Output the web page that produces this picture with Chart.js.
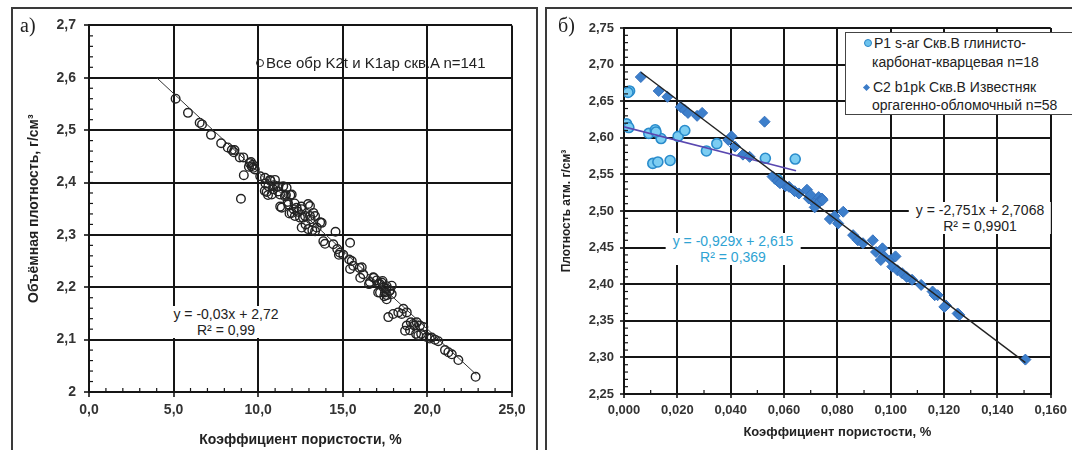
<!DOCTYPE html>
<html>
<head>
<meta charset="utf-8">
<script src="https://cdn.jsdelivr.net/npm/chart.js@4.4.0/dist/chart.umd.min.js"></script>
<style>
  body { margin: 0; width: 1072px; height: 450px; background: #fff; position: relative; overflow: hidden;
         font-family: 'Liberation Sans', Arial, sans-serif; color: #222; }
  .frame { position: absolute; border: 2px solid #3a3a3a; box-sizing: border-box; }
  #frameA { left: 11px; top: 7px; width: 527px; height: 470px; }
  #frameB { left: 545px; top: 7px; width: 540px; height: 470px; }
  .box { position: absolute; }
  #boxA { left: 12px; top: 9px; width: 522px; height: 441px; }
  #boxB { left: 548px; top: 9px; width: 524px; height: 441px; }
  .tag { position: absolute; font-family: 'Liberation Serif', serif; font-size: 20px; color: #222; z-index: 2; }
  .eq { position: absolute; background: #fff; text-align: center; font-size: 14px; line-height: 16px;
        transform: translateX(-50%); padding: 0 7px; white-space: nowrap; z-index: 2; }
  .legA { position: absolute; left: 256px; top: 54px; font-size: 15px; white-space: nowrap; z-index: 2; }
  .dot { display: inline-block; width: 6px; height: 6px; border: 1.3px solid #222; border-radius: 50%;
         margin-right: 2px; vertical-align: 1px; }
  .legB { position: absolute; left: 845px; top: 32px; width: 240px; height: 83px; box-sizing: border-box;
          border: 1.5px solid #444; background: #fff; font-size: 14px; line-height: 18px; z-index: 2; }
  .legB div { position: absolute; white-space: nowrap; }
  .circ { display: inline-block; width: 6px; height: 6px; background: #6cc3ee; border: 1.2px solid #2a85c6;
          border-radius: 50%; margin-right: 2px; vertical-align: 1px; }
  .diam { display: inline-block; width: 5px; height: 5px; background: #3b7cc8; transform: rotate(45deg);
          margin-right: 4px; vertical-align: 2px; }
</style>
</head>
<body>
<div class="frame" id="frameA"></div>
<div class="frame" id="frameB"></div>
<div class="box" id="boxA"><canvas id="chartA"></canvas></div>
<div class="box" id="boxB"><canvas id="chartB"></canvas></div>

<div class="tag" style="left:20px; top:14px;">а)</div>
<div class="tag" style="left:558px; top:14px;">б)</div>

<div class="legA"><span class="dot"></span>Все обр K2t и K1ap скв.A n=141</div>
<div class="eq" style="left:226px; top:306px; color:#222;">y = -0,03x + 2,72<br>R² = 0,99</div>

<div class="legB">
  <div style="left:18px; top:1px;"><span class="circ"></span>P1 s-ar Скв.В глинисто-</div>
  <div style="left:26px; top:20px;">карбонат-кварцевая n=18</div>
  <div style="left:18px; top:45px;"><span class="diam"></span>C2 b1pk Скв.В Известняк</div>
  <div style="left:26px; top:63px;">оргагенно-обломочный n=58</div>
</div>
<div class="eq" style="left:980px; top:202px; color:#222;">y = -2,751x + 2,7068<br>R² = 0,9901</div>
<div class="eq" style="left:733px; top:233px; color:#2fa3d3;">y = -0,929x + 2,615<br>R² = 0,369</div>

<script>
// а) все образцы K2t и K1ap, скв. A
const aPorosity = [
  5.12, 5.85, 6.54, 6.68, 7.21, 7.81, 8.20, 8.44, 8.56, 8.91,
  9.12, 9.15, 8.98, 9.57, 9.61, 9.45, 9.80, 9.68, 9.70, 10.12,
  10.40, 10.70, 10.99, 10.60, 10.89, 11.19, 11.48, 11.68, 10.50, 10.80,
  11.29, 11.58, 11.98, 11.39, 11.78, 11.98, 12.27, 12.57, 13.06, 12.17,
  12.47, 12.77, 13.36, 13.75, 12.57, 12.96, 13.36, 13.85, 13.95, 10.43,
  10.39, 10.58, 11.13, 11.17, 11.30, 11.74, 12.15, 12.10, 12.35, 12.55,
  12.95, 13.20, 13.46, 13.66, 12.65, 13.06, 13.26, 11.85, 10.73, 10.93,
  11.90, 11.64, 14.44, 15.43, 14.83, 15.03, 15.53, 15.62, 15.43, 16.12,
  16.21, 16.80, 17.00, 17.10, 17.30, 17.40, 17.59, 17.79, 17.49, 17.20,
  17.89, 18.28, 18.58, 18.78, 14.57, 14.67, 14.77, 15.38, 15.99, 16.03,
  16.55, 16.83, 17.19, 17.35, 17.59, 17.75, 17.45, 17.59, 17.09, 17.89,
  17.69, 17.98, 18.48, 18.78, 18.97, 19.17, 19.37, 19.56, 19.76, 19.46,
  19.96, 20.25, 20.45, 20.64, 21.04, 21.24, 21.44, 21.83, 22.85, 18.68,
  19.02, 19.63, 19.33, 20.14, 19.22, 13.10, 12.80, 16.60, 17.60, 8.60,
  9.50
];
const aDensity = [
  2.560, 2.533, 2.514, 2.511, 2.491, 2.475, 2.467, 2.462, 2.458, 2.448,
  2.448, 2.414, 2.369, 2.439, 2.431, 2.430, 2.425, 2.434, 2.428, 2.412,
  2.409, 2.405, 2.405, 2.393, 2.387, 2.393, 2.393, 2.390, 2.382, 2.377,
  2.377, 2.374, 2.377, 2.352, 2.358, 2.342, 2.352, 2.349, 2.355, 2.336,
  2.333, 2.336, 2.336, 2.323, 2.314, 2.311, 2.307, 2.288, 2.283, 2.398,
  2.384, 2.376, 2.392, 2.383, 2.354, 2.363, 2.360, 2.349, 2.344, 2.354,
  2.359, 2.309, 2.314, 2.324, 2.333, 2.336, 2.342, 2.341, 2.403, 2.395,
  2.376, 2.376, 2.282, 2.285, 2.266, 2.262, 2.250, 2.241, 2.235, 2.238,
  2.225, 2.219, 2.213, 2.206, 2.209, 2.200, 2.197, 2.194, 2.190, 2.190,
  2.203, 2.152, 2.159, 2.152, 2.306, 2.273, 2.262, 2.253, 2.237, 2.218,
  2.206, 2.218, 2.206, 2.212, 2.202, 2.193, 2.183, 2.177, 2.190, 2.187,
  2.143, 2.149, 2.149, 2.127, 2.118, 2.130, 2.133, 2.127, 2.124, 2.108,
  2.105, 2.104, 2.100, 2.097, 2.080, 2.076, 2.072, 2.061, 2.029, 2.117,
  2.133, 2.111, 2.111, 2.102, 2.127, 2.330, 2.320, 2.210, 2.185, 2.462,
  2.437
];
const aTrendX = [4.0, 22.9];
const aTrendY = [2.600, 2.033];
const aXLabels = ['0,0', '5,0', '10,0', '15,0', '20,0', '25,0'];
const aYLabels = ['2', '2,1', '2,2', '2,3', '2,4', '2,5', '2,6', '2,7'];

// б) скв. B: P1 s-ar (кружки) и C2 b1pk (ромбы)
const bP1Porosity = [0.0010, 0.0018, 0.0021, 0.0093, 0.0117, 0.0139, 0.0108, 0.0127, 0.0173,
  0.0203, 0.0228, 0.0309, 0.0348, 0.0530, 0.0642, 0.0576, 0.0015, 0.0120];
const bP1Density = [2.619, 2.614, 2.664, 2.606, 2.611, 2.599, 2.565, 2.567, 2.569,
  2.602, 2.610, 2.582, 2.592, 2.572, 2.571, 2.543, 2.662, 2.608];
const bC2Porosity = [
  0.0063, 0.0130, 0.0163, 0.0213, 0.0228, 0.0240, 0.0274, 0.0293, 0.0527, 0.0403,
  0.0391, 0.0416, 0.0446, 0.0471, 0.0557, 0.0576, 0.0606, 0.0619, 0.0656, 0.0686,
  0.0693, 0.0717, 0.0730, 0.0742, 0.0735, 0.0772, 0.0822, 0.0803, 0.0859, 0.0877,
  0.0896, 0.0933, 0.0945, 0.0969, 0.0975, 0.0963, 0.1000, 0.1018, 0.1006, 0.1025,
  0.1043, 0.1080, 0.1114, 0.1157, 0.1176, 0.1207, 0.1201, 0.1251, 0.1257, 0.1505,
  0.0585, 0.0640, 0.0700, 0.0745, 0.0715, 0.0790, 0.1060, 0.1165
];
const bC2Density = [
  2.683, 2.664, 2.656, 2.642, 2.638, 2.634, 2.630, 2.634, 2.622, 2.602,
  2.597, 2.588, 2.577, 2.574, 2.547, 2.541, 2.534, 2.533, 2.524, 2.529,
  2.517, 2.510, 2.519, 2.517, 2.513, 2.489, 2.499, 2.483, 2.467, 2.460,
  2.456, 2.460, 2.444, 2.449, 2.438, 2.433, 2.433, 2.438, 2.424, 2.419,
  2.415, 2.406, 2.399, 2.390, 2.385, 2.371, 2.369, 2.360, 2.358, 2.297,
  2.538, 2.527, 2.522, 2.515, 2.505, 2.493, 2.410, 2.385
];
const bP1TrendX = [0.0, 0.0645];
const bP1TrendY = [2.615, 2.555];
const bC2TrendX = [0.0063, 0.1505];
const bC2TrendY = [2.6895, 2.2928];
const bXLabels = ['0,000', '0,020', '0,040', '0,060', '0,080', '0,100', '0,120', '0,140', '0,160'];
const bYLabels = ['2,25', '2,30', '2,35', '2,40', '2,45', '2,50', '2,55', '2,60', '2,65', '2,70', '2,75'];

Chart.defaults.font.family = "'Liberation Sans', Arial, sans-serif";
Chart.defaults.color = '#2a2a2a';

const toPoints = (xs, ys) => xs.map((x, i) => ({ x: x, y: ys[i] }));
const GRID = '#151515';

// small inner tick marks along the left and bottom axes
const minorTicks = {
  id: 'minorTicks',
  afterDraw(chart, args, opts) {
    const { ctx, chartArea: area, scales } = chart;
    ctx.save();
    ctx.strokeStyle = GRID;
    ctx.lineWidth = 1.2;
    const xs = scales.x, ys = scales.y;
    const nx = Math.round((xs.max - xs.min) / opts.x);
    for (let i = 0; i <= nx; i++) {
      const px = xs.getPixelForValue(xs.min + i * opts.x);
      ctx.beginPath(); ctx.moveTo(px, area.bottom); ctx.lineTo(px, area.bottom - opts.len); ctx.stroke();
    }
    const ny = Math.round((ys.max - ys.min) / opts.y);
    for (let i = 0; i <= ny; i++) {
      const py = ys.getPixelForValue(ys.min + i * opts.y);
      ctx.beginPath(); ctx.moveTo(area.left, py); ctx.lineTo(area.left + opts.len, py); ctx.stroke();
    }
    ctx.restore();
  }
};

function labelFrom(labels, min, step) {
  return (v) => labels[Math.round((v - min) / step)];
}

function axis(o) {
  return {
    type: 'linear',
    position: o.position,
    min: o.min, max: o.max,
    afterFit: (s) => { if (o.width) s.width = o.width; if (o.height) s.height = o.height; },
    grid: { color: GRID, lineWidth: 2, tickLength: o.tickLength, tickColor: GRID, tickWidth: 1.6 },
    border: { color: GRID, width: 2 },
    ticks: {
      stepSize: o.step, padding: o.padding, autoSkip: false, maxRotation: 0,
      font: { size: o.tickSize, weight: 'bold' }, color: '#333',
      callback: labelFrom(o.labels, o.min, o.step)
    },
    title: { display: true, text: o.title, font: { size: o.titleSize, weight: 'bold' }, color: '#222',
             padding: o.titlePad }
  };
}

// Chart а)
const ctxA = document.getElementById('chartA').getContext('2d');
const chartA = new Chart(ctxA, {
  type: 'scatter',
  data: {
    datasets: [
      {
        data: toPoints(aTrendX, aTrendY),
        showLine: true, borderColor: '#333', borderWidth: 1, pointRadius: 0
      },
      {
        data: toPoints(aPorosity, aDensity),
        pointStyle: 'circle', pointRadius: 4.3, borderWidth: 1.4,
        borderColor: '#222', backgroundColor: 'rgba(255,255,255,0)'
      }
    ]
  },
  options: {
    responsive: true, maintainAspectRatio: false, animation: false,
    layout: { padding: { top: 14, right: 22, left: 0, bottom: 0 } },
    plugins: { legend: { display: false }, tooltip: { enabled: false },
               minorTicks: { x: 1, y: 0.02, len: 4 } },
    scales: {
      x: axis({ position: 'bottom', min: 0, max: 25, step: 5, labels: aXLabels, height: 58,
                tickLength: 5, padding: 5, tickSize: 14, title: 'Коэффициент пористости, %',
                titleSize: 14, titlePad: { top: 0, bottom: 1 } }),
      y: axis({ position: 'left', min: 2, max: 2.7, step: 0.1, labels: aYLabels, width: 77,
                tickLength: 5, padding: 8, tickSize: 14, title: 'Объёмная плотность, г/см³',
                titleSize: 14, titlePad: { top: 14, bottom: 0 } })
    }
  },
  plugins: [minorTicks]
});

// Chart б)
const ctxB = document.getElementById('chartB').getContext('2d');
const chartB = new Chart(ctxB, {
  type: 'scatter',
  data: {
    datasets: [
      {
        data: toPoints(bC2TrendX, bC2TrendY),
        showLine: true, borderColor: '#222', borderWidth: 1.4, pointRadius: 0
      },
      {
        data: toPoints(bP1TrendX, bP1TrendY),
        showLine: true, borderColor: '#5a48b0', borderWidth: 1.6, pointRadius: 0
      },
      {
        data: toPoints(bC2Porosity, bC2Density),
        pointStyle: 'rectRot', pointRadius: 5.5, borderWidth: 1,
        borderColor: '#3470bd', backgroundColor: '#3d7fcb'
      },
      {
        data: toPoints(bP1Porosity, bP1Density),
        pointStyle: 'circle', pointRadius: 5, borderWidth: 1.6,
        borderColor: '#2a8ccc', backgroundColor: '#7ccdf2'
      }
    ]
  },
  options: {
    responsive: true, maintainAspectRatio: false, animation: false,
    layout: { padding: { top: 19, right: 14, left: 0, bottom: 0 } },
    plugins: { legend: { display: false }, tooltip: { enabled: false },
               minorTicks: { x: 0.01, y: 0.01, len: 4 } },
    scales: {
      x: axis({ position: 'bottom', min: 0, max: 0.16, step: 0.02, labels: bXLabels, height: 56,
                tickLength: 4, padding: 5, tickSize: 13, title: 'Коэффициент пористости, %',
                titleSize: 13, titlePad: { top: 0, bottom: 10 } }),
      y: axis({ position: 'left', min: 2.25, max: 2.75, step: 0.05, labels: bYLabels, width: 76,
                tickLength: 4, padding: 6, tickSize: 13, title: 'Плотность атм. г/см³',
                titleSize: 12, titlePad: { top: 11, bottom: 0 } })
    }
  },
  plugins: [minorTicks]
});
</script>
</body>
</html>
